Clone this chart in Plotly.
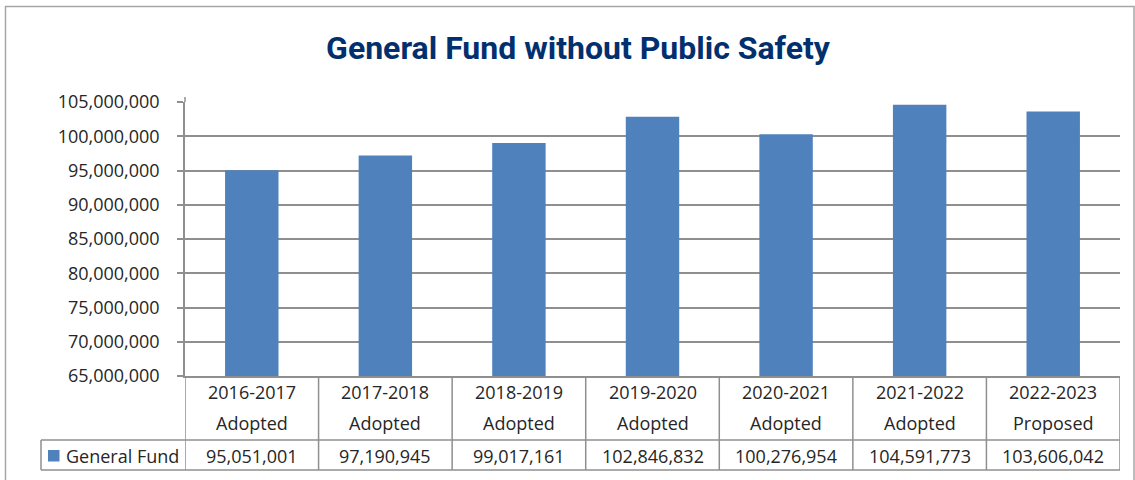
import plotly.graph_objects as go

years = ["2016-2017", "2017-2018", "2018-2019", "2019-2020", "2020-2021", "2021-2022", "2022-2023"]
statuses = ["Adopted", "Adopted", "Adopted", "Adopted", "Adopted", "Adopted", "Proposed"]
general_fund = [95051001, 97190945, 99017161, 102846832, 100276954, 104591773, 103606042]
series_name = "General Fund"
title_text = "General Fund without Public Safety"

W, H = 1135, 480
L, R, T, B = 185, 1120, 102, 376
PW, PH = R - L, B - T
BAR = "#4F81BD"
GRID = "#8f8f8f"
TXT = "#262626"
FONT = "Open Sans"
FS = 18

def py(y):
    return (B - y) / PH

def px(x):
    return (x - L) / PW

n = len(years)
fig = go.Figure()
fig.add_trace(go.Bar(x=list(range(n)), y=general_fund, width=0.4,
                     marker=dict(color=BAR, line=dict(width=0)),
                     name=series_name, showlegend=False))

shapes = []
annotations = []
# outer border
shapes.append(dict(type="rect", xref="paper", yref="paper",
                   x0=px(5.5), x1=px(1134), y0=py(490), y1=py(6.5),
                   line=dict(color="#a6a6a6", width=1.5), layer="below"))
# extend y axis line a little above the top gridline
shapes.append(dict(type="line", xref="paper", yref="paper", x0=0, x1=0,
                   y0=1, y1=py(97), line=dict(color=GRID, width=1.5)))
# table verticals
for k in range(n + 1):
    shapes.append(dict(type="line", xref="x", yref="paper", x0=k - 0.5, x1=k - 0.5,
                       y0=py(B), y1=py(470), line=dict(color=GRID, width=1.5)))
# legend cell lines
for yy in (440, 470):
    shapes.append(dict(type="line", xref="paper", yref="paper", x0=px(41), x1=1,
                       y0=py(yy), y1=py(yy), line=dict(color=GRID, width=1.5)))
shapes.append(dict(type="line", xref="paper", yref="paper", x0=px(41), x1=px(41),
                   y0=py(440), y1=py(470), line=dict(color=GRID, width=1.5)))
# legend marker
shapes.append(dict(type="rect", xref="paper", yref="paper", x0=px(48), x1=px(59.5),
                   y0=py(461.5), y1=py(450), fillcolor=BAR, line=dict(width=0)))

for k in range(n):
    annotations.append(dict(x=k, y=py(392), xref="x", yref="paper", text=years[k],
                            showarrow=False, font=dict(family=FONT, size=FS, color=TXT),
                            xanchor="center", yanchor="middle"))
    annotations.append(dict(x=k, y=py(423), xref="x", yref="paper", text=statuses[k],
                            showarrow=False, font=dict(family=FONT, size=FS, color=TXT),
                            xanchor="center", yanchor="middle"))
    annotations.append(dict(x=k, y=py(456), xref="x", yref="paper", text=f"{general_fund[k]:,}",
                            showarrow=False, font=dict(family=FONT, size=FS, color=TXT),
                            xanchor="center", yanchor="middle"))
annotations.append(dict(x=px(64), y=py(456), xref="paper", yref="paper", text=series_name,
                        showarrow=False, font=dict(family=FONT, size=FS, color=TXT),
                        xanchor="left", yanchor="middle"))

fig.update_layout(
    width=W, height=H,
    margin=dict(l=L, r=W - R, t=T, b=H - B, pad=0),
    paper_bgcolor="white", plot_bgcolor="white",
    title=dict(text=f"<b>{title_text}</b>", x=578 / W, xref="container", xanchor="center",
               y=1 - 48 / H, yref="container", yanchor="middle",
               font=dict(family="Roboto", size=32, color="#02306e")),
    shapes=shapes, annotations=annotations,
    showlegend=False,
)
fig.update_xaxes(range=[-0.5, n - 0.5], showticklabels=False, showgrid=False,
                 showline=True, linecolor=GRID, linewidth=1.5, ticks="", zeroline=False,
                 fixedrange=True)
fig.update_yaxes(range=[65000000, 105000000], dtick=5000000, tickformat=",d",
                 showgrid=True, gridcolor=GRID, gridwidth=1.5,
                 showline=True, linecolor=GRID, linewidth=1.5,
                 ticks="outside", ticklen=6, tickcolor=GRID, tickwidth=1.5,
                 ticklabelstandoff=14, zeroline=False,
                 tickfont=dict(family=FONT, size=FS, color=TXT), fixedrange=True)

fig.write_html("out.html", config={"displayModeBar": False},
               post_script="document.body.style.margin='0';document.body.style.overflow='hidden';")
